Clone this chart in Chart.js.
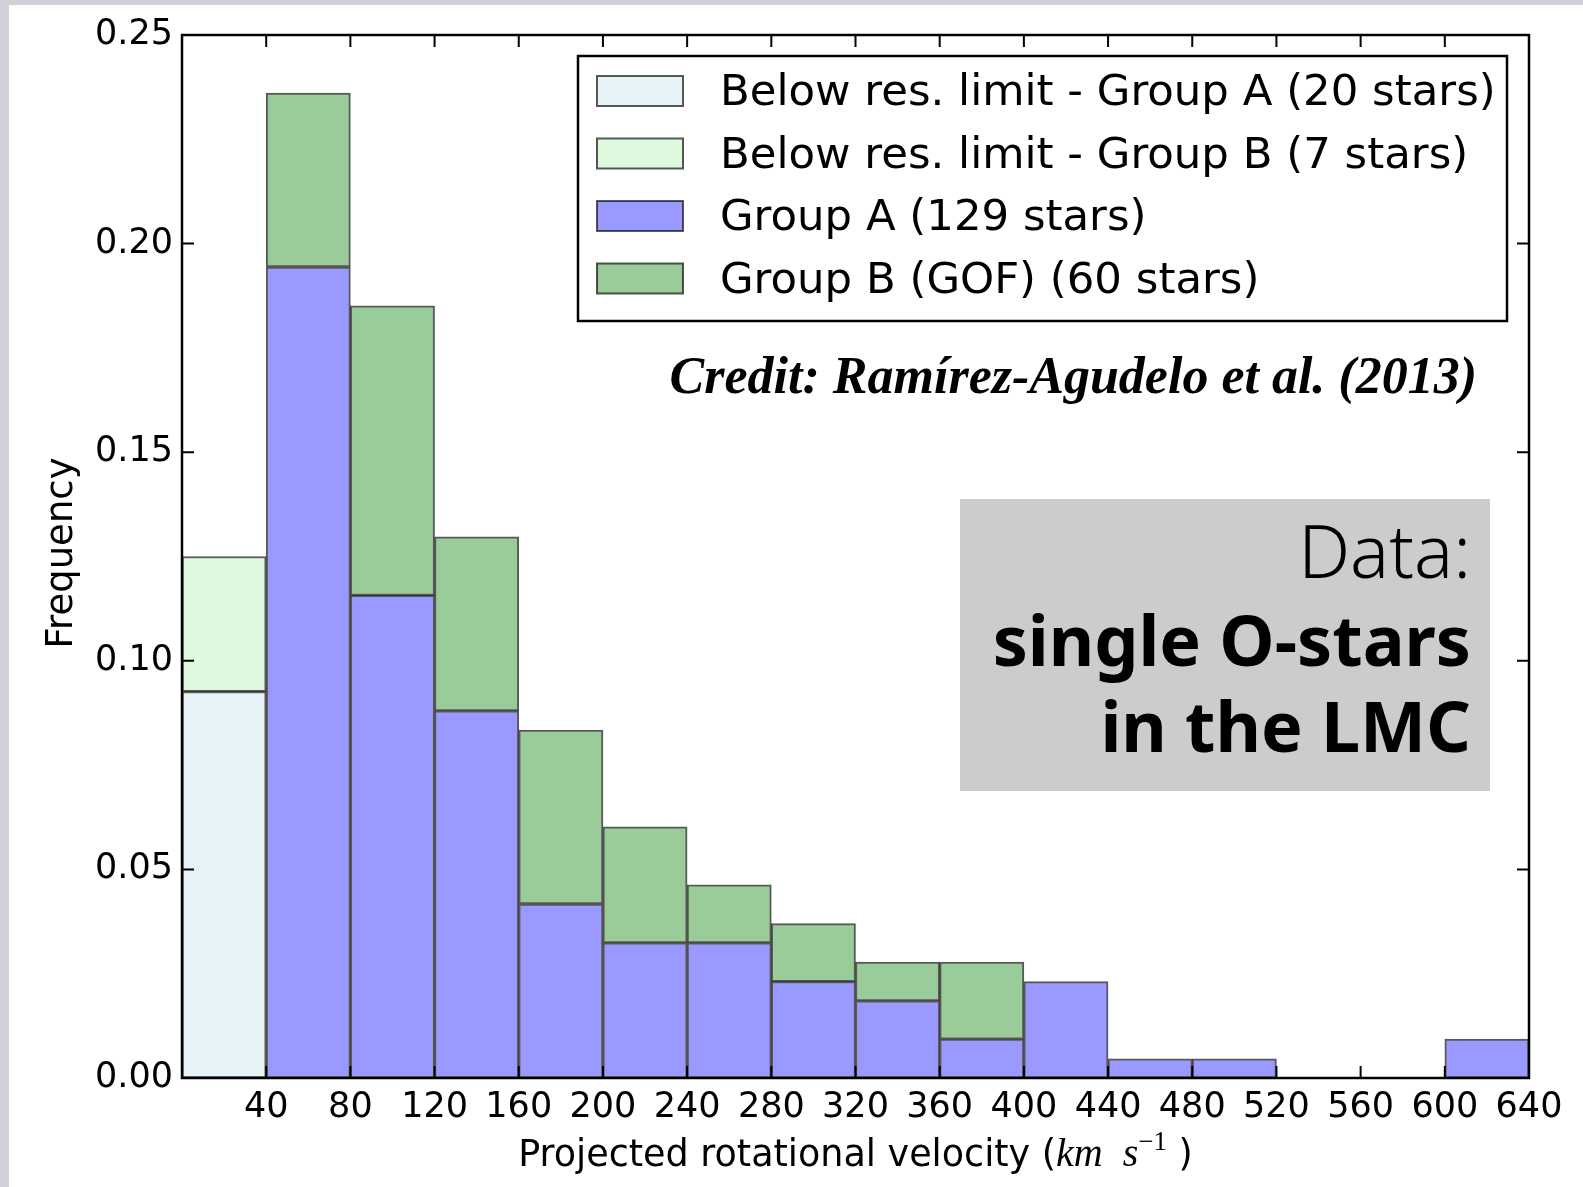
<!DOCTYPE html>
<html>
<head>
<meta charset="utf-8">
<title>Projected rotational velocity - single O-stars in the LMC</title>
<script src="https://cdn.jsdelivr.net/npm/chart.js@4/dist/chart.umd.min.js"></script>
<style>
  html, body { margin: 0; padding: 0; }
  body { background: #d0d1d9; width: 1583px; height: 1187px; overflow: hidden; }
  #wrap { position: absolute; left: 9px; top: 5px; width: 1574px; height: 1182px; background: #fff; }
</style>
</head>
<body>
<div id="wrap"><canvas id="vsiniChart"></canvas></div>
<script>
// Bin centres of the 40 km/s histogram bins (0-40, 40-80, ... 600-640)
const binCenters = [20, 60, 100, 140, 180, 220, 260, 300, 340, 380, 420, 460, 500, 540, 580, 620];

// Frequencies (stacked)
const belowResA = [0.0926, null, null, null, null, null, null, null, null, null, null, null, null, null, null, null];
const belowResB = [0.0324, null, null, null, null, null, null, null, null, null, null, null, null, null, null, null];
const groupA = [null, 0.1944, 0.1157, 0.0880, 0.0417, 0.0324, 0.0324, 0.0231, 0.0185, 0.0093, 0.0231, 0.0046, 0.0046, null, null, 0.0093];
const groupB = [null, 0.0417, 0.0694, 0.0417, 0.0417, 0.0278, 0.0139, 0.0139, 0.0093, 0.0185, null, null, null, null, null, null];

const seriesLabels = [
  "Below res. limit - Group A (20 stars)",
  "Below res. limit - Group B (7 stars)",
  "Group A (129 stars)",
  "Group B (GOF) (60 stars)"
];
const seriesColors = ["#e6f3f7", "#def9de", "#9999ff", "#99cc99"];

const yTicks = [0, 0.05, 0.10, 0.15, 0.20, 0.25];

const edgeColor = "rgba(0,0,0,0.65)";

// inward ticks on all four sides plus the frame
const frameTicks = {
  id: "frameTicks",
  afterDatasetsDraw(chart) {
    const ctx = chart.ctx;
    const a = chart.chartArea;
    const xs = chart.scales.x;
    const ys = chart.scales.y;
    ctx.save();
    ctx.strokeStyle = "#000";
    ctx.lineWidth = 2;
    ctx.beginPath();
    xs.ticks.forEach(function (t, i) {
      const px = xs.getPixelForTick(i);
      ctx.moveTo(px, a.bottom); ctx.lineTo(px, a.bottom - 12);
      ctx.moveTo(px, a.top); ctx.lineTo(px, a.top + 12);
    });
    ys.ticks.forEach(function (t, i) {
      const py = ys.getPixelForTick(i);
      ctx.moveTo(a.left, py); ctx.lineTo(a.left + 12, py);
      ctx.moveTo(a.right, py); ctx.lineTo(a.right - 12, py);
    });
    ctx.stroke();
    ctx.lineWidth = 2.5;
    ctx.strokeRect(a.left, a.top, a.right - a.left, a.bottom - a.top);
    ctx.restore();
  }
};

// legend box, credit, note box and axis titles
const annotations = {
  id: "annotations",
  afterDraw(chart) {
    const ctx = chart.ctx;
    const a = chart.chartArea;
    ctx.save();

    // legend
    ctx.fillStyle = "#fff";
    ctx.fillRect(569, 51, 929, 265);
    ctx.strokeStyle = "#000";
    ctx.lineWidth = 2.5;
    ctx.strokeRect(569, 51, 929, 265);
    ctx.font = "43.4px 'DejaVu Sans'";
    ctx.textBaseline = "middle";
    ctx.textAlign = "left";
    chart.data.datasets.forEach(function (ds, i) {
      const cy = 86 + i * 62.5;
      ctx.fillStyle = ds.backgroundColor;
      ctx.fillRect(588, cy - 15, 86, 30);
      ctx.strokeStyle = edgeColor;
      ctx.lineWidth = 2;
      ctx.strokeRect(588, cy - 15, 86, 30);
      ctx.fillStyle = "#000";
      ctx.fillText(ds.label, 711, cy + 3);
    });

    // credit
    ctx.textBaseline = "alphabetic";
    ctx.textAlign = "right";
    ctx.font = "italic bold 52px 'Liberation Serif'";
    ctx.fillText("Credit: Ramírez-Agudelo et al. (2013)", 1468, 388);

    // note box
    ctx.fillStyle = "#cccccc";
    ctx.fillRect(951, 494, 530, 292);
    ctx.fillStyle = "#000";
    ctx.font = "300 73px 'Noto Sans'";
    ctx.fillText("Data:", 1462, 573);
    ctx.font = "bold 70px 'Noto Sans'";
    ctx.fillText("single O-stars", 1462, 661);
    ctx.fillText("in the LMC", 1462, 747);

    // y title
    ctx.save();
    ctx.translate(53, 548);
    ctx.rotate(-Math.PI / 2);
    ctx.textAlign = "center";
    ctx.textBaseline = "middle";
    ctx.font = "37px 'DejaVu Sans'";
    ctx.fillText("Frequency", 0, 0);
    ctx.restore();

    // x title with math part
    const parts = [
      { t: "Projected rotational velocity (", f: "36.5px 'DejaVu Sans'", dy: 0 },
      { t: "km", f: "italic 40px 'Liberation Serif'", dy: 0 },
      { t: "  ", f: "40px 'Liberation Serif'", dy: 0 },
      { t: "s", f: "italic 40px 'Liberation Serif'", dy: 0 },
      { t: "\u22121", f: "27px 'Liberation Serif'", dy: -16 },
      { t: " )", f: "36.5px 'DejaVu Sans'", dy: 0 }
    ];
    let total = 0;
    parts.forEach(function (p) { ctx.font = p.f; p.w = ctx.measureText(p.t).width; total += p.w; });
    let x = (a.left + a.right) / 2 - total / 2;
    ctx.textAlign = "left";
    ctx.textBaseline = "alphabetic";
    parts.forEach(function (p) {
      ctx.font = p.f;
      ctx.fillText(p.t, x, 1161 + p.dy);
      x += p.w;
    });

    ctx.restore();
  }
};

const datasets = [belowResA, belowResB, groupA, groupB].map(function (vals, i) {
  return {
    label: seriesLabels[i],
    data: vals,
    backgroundColor: seriesColors[i],
    borderColor: edgeColor,
    borderWidth: 2,
    borderSkipped: false,
    barPercentage: 1,
    categoryPercentage: 1,
    stack: "all"
  };
});

new Chart(document.getElementById("vsiniChart"), {
  type: "bar",
  data: { labels: binCenters, datasets: datasets },
  options: {
    responsive: true,
    maintainAspectRatio: false,
    animation: false,
    layout: { padding: { top: 29, right: 54, left: 0, bottom: 0 } },
    plugins: { legend: { display: false }, tooltip: { enabled: false } },
    scales: {
      x: {
        type: "linear",
        stacked: true,
        min: 0,
        max: 640,
        offset: false,
        grid: { display: false, drawTicks: false },
        border: { display: false },
        ticks: {
          stepSize: 40,
          autoSkip: false,
          maxRotation: 0,
          padding: 9,
          color: "#000",
          font: { family: "DejaVu Sans", size: 35 },
          callback: function (v) { return v === 0 ? "" : String(v); }
        },
        afterFit: function (scale) { scale.height = 109; }
      },
      y: {
        stacked: true,
        min: 0,
        max: 0.25,
        grid: { display: false, drawTicks: false },
        border: { display: false },
        afterBuildTicks: function (scale) { scale.ticks = yTicks.map(function (v) { return { value: v }; }); },
        ticks: {
          padding: 9,
          color: "#000",
          font: { family: "DejaVu Sans", size: 35 },
          callback: function (v) { return v.toFixed(2); }
        },
        afterFit: function (scale) { scale.width = 173; }
      }
    }
  },
  plugins: [frameTicks, annotations]
});
</script>
</body>
</html>
